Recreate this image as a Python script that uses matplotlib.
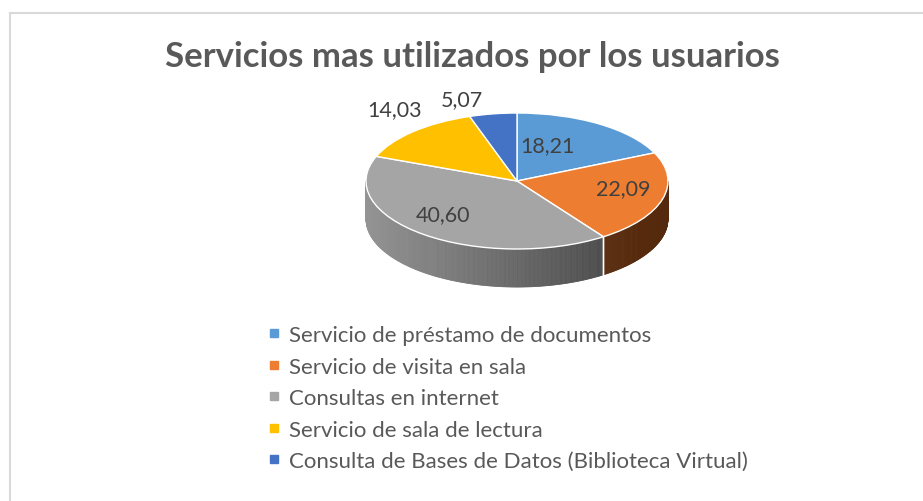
import numpy as np
import matplotlib
matplotlib.use("Agg")
import matplotlib.pyplot as plt
from matplotlib.patches import Polygon
from matplotlib.lines import Line2D

# ---- data ----
categories = [
    "Servicio de préstamo de documentos",
    "Servicio de visita en sala",
    "Consultas en internet",
    "Servicio de sala de lectura",
    "Consulta de Bases de Datos (Biblioteca Virtual)",
]
values = [18.21, 22.09, 40.60, 14.03, 5.07]
value_labels = ["18,21", "22,09", "40,60", "14,03", "5,07"]
title = "Servicios mas utilizados por los usuarios"

# ---- style ----
top_colors = ["#5B9BD5", "#ED7D31", "#A5A5A5", "#FFC000", "#4472C4"]
side_light = ["#3c6d9c", "#6a3814", "#949494", "#b38600", "#2f5091"]
side_dark = ["#2a4f72", "#55290d", "#3a3a3a", "#7f5f00", "#203866"]
FONT = ["Lato", "DejaVu Sans"]
TXT = "#595959"

W, H = 923, 502
fig = plt.figure(figsize=(W / 100, H / 100), dpi=100)

# pie axes: ellipse center at px (517,182), rx=151 px, ry=68 px
cx, cy, rx, ry = 517, 182, 151, 68
xl = (-1.3, 1.3)
yl = (-1.9, 1.6)
ax_w = (xl[1] - xl[0]) * rx
ax_h = (yl[1] - yl[0]) * ry
left = cx + xl[0] * rx
top = cy - yl[1] * ry
ax = fig.add_axes([left / W, 1 - (top + ax_h) / H, ax_w / W, ax_h / H])

wedges, _ = ax.pie(values, colors=top_colors, startangle=90, counterclock=False,
                   radius=1, center=(0, 0),
                   wedgeprops=dict(edgecolor="white", linewidth=1.0, zorder=5))
ax.set_aspect("auto")
ax.set_xlim(*xl)
ax.set_ylim(*yl)
ax.axis("off")

depth = 0.56

# label positions (pixel layout -> pie-axes units)
label_px = [(547, 146), (623, 189), (443, 215), (395, 110), (462, 100)]
label_pos = [((px - cx) / rx, (cy - py) / ry) for px, py in label_px]


def mix(c1, c2, f):
    a = np.array(matplotlib.colors.to_rgb(c1))
    b = np.array(matplotlib.colors.to_rgb(c2))
    return tuple(a + (b - a) * f)


# side walls for the front half (angles 180..360)
for i, w in enumerate(wedges):
    t1, t2 = w.theta1 % 360, w.theta2 % 360
    if t2 <= t1:
        t2 += 360
    for off in (0, 360, -360):
        a = max(t1 + off, 180)
        b = min(t2 + off, 360)
        if b > a:
            ts = np.linspace(a, b, int((b - a) * 2) + 2)
            for k in range(len(ts) - 1):
                s0, s1 = np.radians(ts[k]), np.radians(ts[k + 1])
                xs = [np.cos(s0), np.cos(s1), np.cos(s1), np.cos(s0)]
                ys = [np.sin(s0), np.sin(s1), np.sin(s1) - depth, np.sin(s0) - depth]
                f = (np.cos((s0 + s1) / 2) + 1) / 2
                col = mix(side_light[i], side_dark[i], f)
                ax.add_patch(Polygon(list(zip(xs, ys)), closed=True, facecolor=col,
                                     edgecolor=col, linewidth=0.5, zorder=2))
            for edge in (a, b):
                if 180 < edge % 360 < 360:
                    e = np.radians(edge)
                    ax.plot([np.cos(e), np.cos(e)], [np.sin(e), np.sin(e) - depth],
                            color="white", lw=1.0, zorder=3)

# data labels
for (lx, ly), lab in zip(label_pos, value_labels):
    ax.text(lx, ly, lab, ha="center", va="center", fontsize=15.5, color="#404040",
            family=FONT, zorder=10)

# title
fig.text(472 / W, 1 - 57 / H, title, ha="center", va="center", fontsize=25,
         fontweight="bold", color=TXT, family=FONT)

# legend
handles = [Line2D([], [], marker="s", linestyle="none", markersize=5.5,
                  markerfacecolor=c, markeredgecolor=c) for c in top_colors]
fig.legend(handles, categories, loc="upper left",
           bbox_to_anchor=(268 / W, 1 - 326 / H), frameon=False,
           prop=dict(family=FONT, size=16), labelcolor=TXT,
           handlelength=0.5, handletextpad=0.45, labelspacing=0.52,
           borderaxespad=0, borderpad=0)

# chart border (top and left, visible part)
fig.add_artist(Line2D([9.5 / W, 1], [1 - 13.5 / H, 1 - 13.5 / H], color="#d9d9d9", lw=1.5,
                      transform=fig.transFigure))
fig.add_artist(Line2D([9.5 / W, 9.5 / W], [0, 1 - 13.5 / H], color="#d9d9d9", lw=1.5,
                      transform=fig.transFigure))

fig.savefig("out.png", dpi=100, facecolor="white")
